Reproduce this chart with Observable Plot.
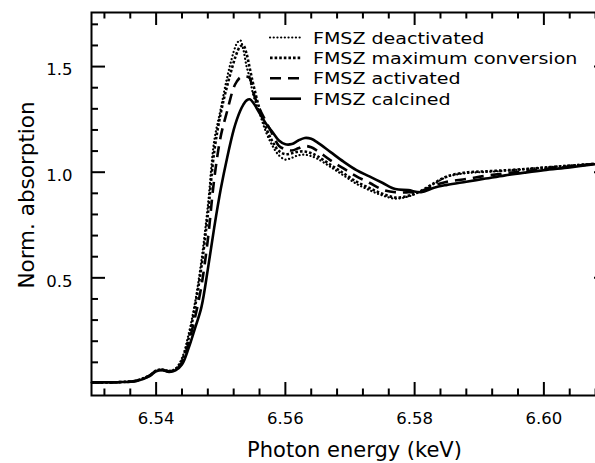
<!DOCTYPE html>
<html>
<head>
<meta charset="utf-8">
<script src="https://cdn.jsdelivr.net/npm/d3@7"></script>
<script src="https://cdn.jsdelivr.net/npm/@observablehq/plot@0.6"></script>
<style>
html, body { margin: 0; padding: 0; background: #fff; overflow: hidden; }
#chart { width: 595px; height: 463px; overflow: hidden; position: relative; }
#chart svg { max-width: none !important; }
</style>
</head>
<body>
<div id="chart"></div>
<script>
// ---- data ----
const energies = [6.530, 6.534, 6.537, 6.539, 6.540, 6.541, 6.542, 6.543, 6.544, 6.545,
  6.546, 6.547, 6.548, 6.549, 6.550, 6.551, 6.552, 6.5525, 6.553, 6.5535,
  6.554, 6.5545, 6.555, 6.556, 6.557, 6.558, 6.559, 6.560, 6.561, 6.562,
  6.563, 6.564, 6.565, 6.567, 6.569, 6.571, 6.573, 6.575, 6.577, 6.579,
  6.581, 6.583, 6.585, 6.588, 6.591, 6.594, 6.597, 6.600, 6.604, 6.608, 6.610];

const deactivated = [0.004, 0.006, 0.015, 0.040, 0.062, 0.066, 0.060, 0.070, 0.12, 0.23,
  0.38, 0.58, 0.84, 1.15, 1.30, 1.45, 1.57, 1.61, 1.625, 1.58,
  1.50, 1.445, 1.37, 1.28, 1.19, 1.125, 1.08, 1.060, 1.068, 1.080,
  1.083, 1.076, 1.063, 1.025, 0.985, 0.945, 0.915, 0.890, 0.875, 0.885,
  0.910, 0.945, 0.978, 0.996, 1.001, 1.007, 1.014, 1.022, 1.032, 1.040, 1.045];

const maxConversion = [0.005, 0.006, 0.014, 0.038, 0.061, 0.065, 0.058, 0.068, 0.11, 0.21,
  0.36, 0.55, 0.80, 1.10, 1.28, 1.41, 1.52, 1.565, 1.595, 1.600,
  1.56, 1.49, 1.42, 1.30, 1.21, 1.145, 1.10, 1.085, 1.090, 1.097,
  1.098, 1.090, 1.075, 1.035, 0.995, 0.955, 0.925, 0.898, 0.880, 0.888,
  0.912, 0.948, 0.980, 0.999, 1.004, 1.009, 1.015, 1.022, 1.031, 1.040, 1.045];

const activated = [0.005, 0.006, 0.013, 0.037, 0.060, 0.064, 0.056, 0.065, 0.10, 0.19,
  0.31, 0.46, 0.68, 0.97, 1.17, 1.29, 1.40, 1.43, 1.448, 1.452,
  1.453, 1.445, 1.38, 1.30, 1.24, 1.18, 1.125, 1.108, 1.103, 1.113,
  1.124, 1.118, 1.100, 1.056, 1.018, 0.980, 0.950, 0.918, 0.905, 0.905,
  0.910, 0.937, 0.955, 0.968, 0.983, 0.995, 1.005, 1.015, 1.027, 1.040, 1.045];

const calcined = [0.005, 0.006, 0.012, 0.035, 0.058, 0.063, 0.055, 0.062, 0.09, 0.165,
  0.26, 0.36, 0.54, 0.74, 0.92, 1.07, 1.20, 1.25, 1.29, 1.32,
  1.34, 1.345, 1.33, 1.28, 1.23, 1.19, 1.15, 1.132, 1.133, 1.150,
  1.162, 1.158, 1.140, 1.095, 1.050, 1.010, 0.980, 0.950, 0.920, 0.915,
  0.905, 0.927, 0.940, 0.955, 0.970, 0.985, 0.998, 1.010, 1.023, 1.038, 1.045];

const seriesNames = ["FMSZ deactivated", "FMSZ maximum conversion", "FMSZ activated", "FMSZ calcined"];

const xMajorTicks = [6.54, 6.56, 6.58, 6.60];
const xMinorTicks = [6.532, 6.536, 6.544, 6.548, 6.552, 6.556, 6.564, 6.568, 6.572, 6.576,
  6.584, 6.588, 6.592, 6.596, 6.604, 6.608];
const yMajorTicks = [0.5, 1.0, 1.5];
const yMinorTicks = [0.1, 0.2, 0.3, 0.4, 0.6, 0.7, 0.8, 0.9, 1.1, 1.2, 1.3, 1.4, 1.6, 1.7];

const xLabel = "Photon energy (keV)";
const yLabel = "Norm. absorption";

// ---- layout / styles ----
const W = 609, H = 463, ML = 91, MR = 1, MT = 12, MB = 68;
const plotW = W - ML - MR, plotH = H - MT - MB;
const FONT = "DejaVu Sans";
const seriesValues = [deactivated, maxConversion, activated, calcined];
const seriesStyle = [
  {dash: "0.1,3.6", width: 2.2, cap: "round"},
  {dash: "2.6,2.0", width: 2.6, cap: "butt"},
  {dash: "11,7", width: 2.6, cap: "butt"},
  {dash: "none", width: 2.6, cap: "butt"}
];

const lineMarks = seriesNames.map((name, i) =>
  Plot.line(
    energies.map((e, j) => ({energy: e, value: seriesValues[i][j], series: name})),
    {x: "energy", y: "value", stroke: "black", strokeWidth: seriesStyle[i].width,
     strokeDasharray: seriesStyle[i].dash, strokeLinecap: seriesStyle[i].cap,
     curve: "catmull-rom"}
  )
);

const plot = Plot.plot({
  width: W, height: H,
  marginLeft: ML, marginRight: MR, marginTop: MT, marginBottom: MB,
  style: {fontFamily: FONT, fontSize: "16.5px", background: "white", color: "black", maxWidth: "none"},
  x: {domain: [6.53, 6.61], label: null},
  y: {domain: [-0.057, 1.756], label: null},
  marks: [
    ...lineMarks,
    Plot.frame({stroke: "black", strokeWidth: 2}),
    // major / minor ticks, pointing inward on all four sides
    Plot.tickY(yMajorTicks, {y: d => d, insetRight: plotW - 14, strokeWidth: 2}),
    Plot.tickY(yMajorTicks, {y: d => d, insetLeft: plotW - 14, strokeWidth: 2}),
    Plot.tickY(yMinorTicks, {y: d => d, insetRight: plotW - 7, strokeWidth: 2}),
    Plot.tickY(yMinorTicks, {y: d => d, insetLeft: plotW - 7, strokeWidth: 2}),
    Plot.tickX(xMajorTicks, {x: d => d, insetTop: plotH - 13, strokeWidth: 2}),
    Plot.tickX(xMajorTicks, {x: d => d, insetBottom: plotH - 13, strokeWidth: 2}),
    Plot.tickX(xMinorTicks, {x: d => d, insetTop: plotH - 6.5, strokeWidth: 2}),
    Plot.tickX(xMinorTicks, {x: d => d, insetBottom: plotH - 6.5, strokeWidth: 2}),
    Plot.axisX(xMajorTicks, {anchor: "bottom", tickSize: 0, tickPadding: 17,
      tickFormat: d => d.toFixed(2), fontSize: 16.5, label: null}),
    Plot.axisY(yMajorTicks, {anchor: "left", tickSize: 0, tickPadding: 19,
      tickFormat: d => d.toFixed(1), fontSize: 16.5, dy: 3.5, label: null}),
    Plot.text([xLabel], {text: d => d, frameAnchor: "bottom", lineAnchor: "top",
      textAnchor: "middle", dx: 4.5, dy: 47, fontSize: 21}),
    Plot.text([yLabel], {text: d => d, frameAnchor: "left", rotate: -90, lineAnchor: "middle",
      textAnchor: "middle", dx: -64.4, dy: -9, fontSize: 21.5})
  ]
});

plot.style.maxWidth = "none";
plot.style.width = W + "px";
plot.style.height = H + "px";
document.getElementById("chart").appendChild(plot);

// make sure tick labels use the intended size
plot.querySelectorAll('g[aria-label="x-axis tick label"] text, g[aria-label="y-axis tick label"] text')
  .forEach(t => { t.style.fontSize = "16.5px"; });

// ---- legend (top right, inside the frame) ----
const svg = d3.select(plot);
const lg = svg.append("g").attr("class", "legend").attr("text-anchor", "start");
seriesNames.forEach((name, i) => {
  const base = 43.5 + i * 20.4;
  lg.append("line")
    .attr("x1", 270).attr("x2", 301)
    .attr("y1", base - 6).attr("y2", base - 6)
    .attr("stroke", "black")
    .attr("stroke-width", seriesStyle[i].width)
    .attr("stroke-linecap", seriesStyle[i].cap)
    .attr("stroke-dasharray", seriesStyle[i].dash);
  lg.append("text")
    .attr("transform", `translate(313,${base}) scale(1.19,1)`)
    .attr("text-anchor", "start")
    .attr("font-family", FONT)
    .attr("font-size", 16)
    .attr("fill", "black")
    .text(name);
});
</script>
</body>
</html>
